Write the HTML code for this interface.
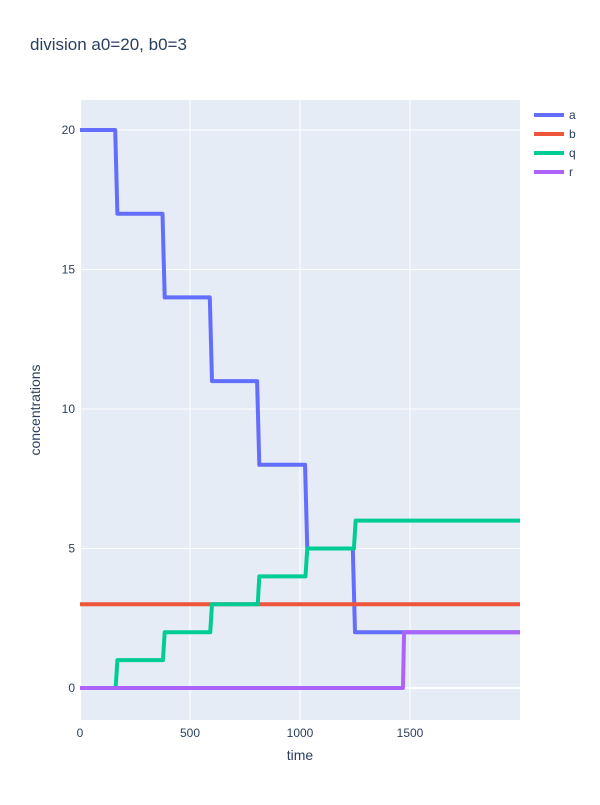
<!DOCTYPE html>
<html><head><meta charset="utf-8"><style>
body{margin:0;background:#fff;font-family:"Liberation Sans",sans-serif;}
</style></head><body>
<svg id="chart" width="600" height="800" xmlns="http://www.w3.org/2000/svg">
<text x="30" y="50" font-size="17" fill="#2a3f5f">division a0=20, b0=3</text>
<rect x="80" y="100" width="440" height="620" fill="#e5ecf6"/>
<g id="grid"></g><g id="series"></g><g id="ticks"></g>
<text x="300" y="760" font-size="14" fill="#2a3f5f" text-anchor="middle">time</text>
<text transform="translate(40,410) rotate(-90)" font-size="14" fill="#2a3f5f" text-anchor="middle">concentrations</text>
<g id="legend"></g>
</svg>
<script>
const xTicks=[0,500,1000,1500];
const yTicks=[0,5,10,15,20];
const seriesNames=["a","b","q","r"];
const aTimes=[0,160,170,375,385,590,600,805,815,1023,1033,1240,1250,2000];
const aVals=[20,20,17,17,14,14,11,11,8,8,5,5,2,2];
const bTimes=[0,2000];
const bVals=[3,3];
const qTimes=[0,162,170,377,385,592,600,808,815,1025,1033,1245,1253,2000];
const qVals=[0,0,1,1,2,2,3,3,4,4,5,5,6,6];
const rTimes=[0,1468,1473,2000];
const rVals=[0,0,2,2];
const colors=["#636efa","#EF553B","#00cc96","#ab63fa"];
const NS="http://www.w3.org/2000/svg";
const X=v=>80+v*0.22;
const Y=v=>688-v*27.9;
function mk(t,a,p){const e=document.createElementNS(NS,t);for(const k in a)e.setAttribute(k,a[k]);p.appendChild(e);return e;}
const grid=document.getElementById('grid'),ticks=document.getElementById('ticks');
xTicks.forEach(v=>{
 const l=mk('line',{x1:X(v),x2:X(v),y1:100,y2:720,stroke:'#fff','stroke-width':v===0?2:1},grid);
 
 
 const t=mk('text',{x:X(v),y:737,'font-size':12,fill:'#2a3f5f','text-anchor':'middle'},ticks);
 t.textContent=v;
 
 
});
yTicks.forEach(v=>{
 const l=mk('line',{x1:80,x2:520,y1:Y(v),y2:Y(v),stroke:'#fff','stroke-width':v===0?2:1},grid);
 
 
 const t=mk('text',{x:75,y:Y(v)+4,'font-size':12,fill:'#2a3f5f','text-anchor':'end'},ticks);
 t.textContent=v;
 
 
});
const data=[[aTimes,aVals],[bTimes,bVals],[qTimes,qVals],[rTimes,rVals]];
const sg=document.getElementById('series'),lg=document.getElementById('legend');
data.forEach((d,i)=>{
 const pts=d[0].map((t,j)=>X(t)+','+Y(d[1][j])).join(' ');
 const p=mk('polyline',{points:pts,fill:'none',stroke:colors[i],'stroke-width':4,'stroke-linejoin':'round'},sg);
 
 
 const g=mk('g',{},lg);
 
 
 const y=115+i*19;
 mk('line',{x1:534,x2:564,y1:y,y2:y,stroke:colors[i],'stroke-width':4},g);
 const t=mk('text',{x:569,y:y+4,'font-size':12,fill:'#2a3f5f'},g);
 t.textContent=seriesNames[i];
});
</script>
</body></html>
